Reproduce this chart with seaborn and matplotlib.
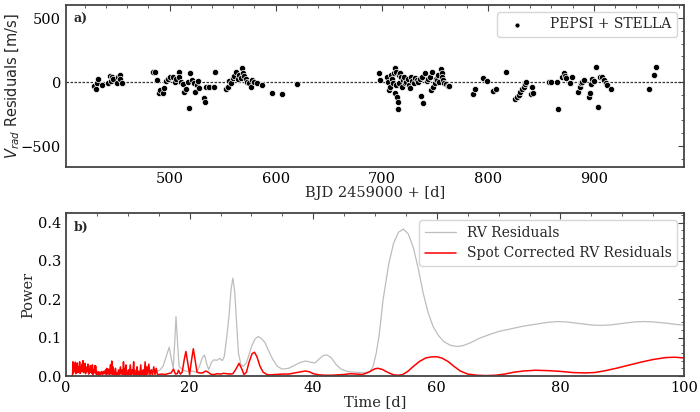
import matplotlib
matplotlib.use("Agg")
import matplotlib.pyplot as plt
import seaborn as sns
import numpy as np
import pandas as pd

# ---------------- data: panel a) RV residuals ----------------
bjd = [428.9, 430.5, 432.0, 432.7, 436.8, 442.1, 443.7, 444.6, 446.2, 446.8, 450.5, 451.5, 453.1, 453.7, 455.6,
       484.3, 486.6, 487.8, 489.7, 491.5, 493.7, 494.6, 496.9, 498.8, 500.9, 503.1, 504.7, 506.3, 508.8, 509.4,
       511.0, 512.5, 514.1, 515.7, 517.2, 518.2, 519.4, 521.3, 523.5, 524.4, 525.7, 526.6, 528.2, 532.3, 533.6,
       534.5, 537.0, 542.3, 543.2,
       553.3, 554.8, 556.3, 557.9, 559.5, 561.0, 562.6, 564.1, 565.7, 567.3, 568.2, 569.5, 570.4, 572.0, 573.5,
       575.1, 576.7, 578.2, 579.8, 582.9, 587.6, 597.0, 605.8, 619.9,
       697.2, 698.1, 705.0, 705.9, 706.6, 707.5, 708.8, 709.7, 710.6, 711.3, 712.2, 712.9, 713.5, 713.8, 714.4,
       715.0, 715.3, 716.0, 716.6, 717.6, 718.1, 719.1, 720.0, 721.3, 722.3, 723.2, 724.4, 725.4, 726.3, 727.5,
       728.5, 730.0, 731.6, 733.2, 734.7, 735.7, 736.9, 737.8, 739.4, 741.0, 742.5, 744.1, 745.7, 746.7, 747.9,
       748.8, 749.8, 751.0, 752.6, 753.5, 754.5, 755.7, 756.6, 757.3, 758.2, 759.2, 760.4, 762.3, 763.6,
       786.4, 788.0, 795.8, 799.5, 805.2, 807.3, 817.1, 826.1, 827.7, 829.3, 830.8, 832.4, 834.0, 835.5, 836.4,
       840.6, 841.5, 842.7, 857.5, 859.9, 865.5, 866.2, 870.0, 871.5, 872.5, 874.0, 877.8, 879.6, 885.0, 886.6,
       887.5, 889.0, 890.6, 895.0, 896.0, 896.9, 898.4, 899.7, 901.6, 903.8, 905.9, 907.8, 910.0, 911.0, 912.2,
       916.3, 952.3, 956.3, 958.5]
resid = [-31, -55, -5, 21, -23, -10, 47, 10, 36, 21, -10, 36, 55, 21, -5,
         75, 75, 13, -83, -62, -83, -49, 10, 21, 36, 42, -3, 23, 75, 42,
         3, -16, -75, -57, 3, -200, 68, 16, -5, -75, -23, 10, -49, -122, -153,
         -36, -42, -36, 75,
         -55, -36, 10, -10, 29, 47, 75, 21, 55, 29, 107, 68, 47, 21, 3,
         -10, -42, 16, 3, -10, -23, -83, -94, -16,
         73, 16, 42, -3, -62, -36, 55, 21, -10, 68, -88, 107, 81, -23, -114,
         -213, -153, 55, -10, 73, 36, -36, 16, 42, -10, 3, 21, -23, -49, 36,
         10, -10, 29, 16, 3, 21, -109, 36, -161, 68, 10, 21, 42, -62, 81,
         -36, -10, 21, 16, 55, 3, 99, 73, 36, 16, -5, -16, -31, -31,
         -94, -55, 29, 10, -70, -57, 81, -133, -114, -101, -78, -57, -36, -18, 3,
         -94, -42, -88, 0, 3, -3, -213, 36, 68, 47, 29, -10, 42, -75, -42,
         -10, 3, 16, -120, -83, -16, 21, 5, 120, -192, 42, 36, 16, -10, -23,
         -57, -55, 55, 120]

# ---------------- data: panel b) periodograms ----------------
gray_P = [13.5, 14.2, 14.8, 15.2, 15.7, 16.2, 16.7, 17.1, 17.35, 17.6, 17.8, 18.0, 18.3, 18.9, 19.5, 20.1,
          20.6, 21.1, 21.6, 22.0, 22.4, 22.8, 23.1, 23.5, 23.9, 24.4, 24.9, 25.3, 25.6, 26.0, 26.4, 26.7,
          27.0, 27.3, 27.6, 27.9, 28.3, 28.7, 29.2, 29.6, 30.1, 30.6, 31.1, 31.6, 32.2, 32.8, 33.5, 34.2,
          35.0, 36.0, 37.0, 38.0, 38.8, 39.6, 40.3, 41.0, 41.6, 42.2, 42.9, 43.7, 44.5, 45.5, 46.5, 47.5,
          48.5, 49.2, 49.7, 50.2, 50.7, 51.3, 52.2, 53.0, 53.8, 54.6, 55.4, 56.2, 57.0, 57.8, 58.6, 59.4,
          60.2, 61.1, 62.2, 63.2, 64.2, 65.5, 67.0, 68.5, 70.0, 72.0, 74.0, 76.0, 78.0, 79.5, 81.0, 83.0,
          85.0, 86.5, 88.0, 90.0, 92.0, 93.5, 95.0, 97.0, 99.0, 100.0]
gray_pow = [0.012, 0.018, 0.012, 0.016, 0.025, 0.050, 0.075, 0.040, 0.020, 0.090, 0.155, 0.100, 0.025, 0.016,
            0.012, 0.013, 0.012, 0.010, 0.025, 0.045, 0.055, 0.030, 0.016, 0.035, 0.042, 0.041, 0.046, 0.040,
            0.050, 0.100, 0.160, 0.225, 0.255, 0.220, 0.140, 0.060, 0.030, 0.025, 0.035, 0.055, 0.080, 0.097,
            0.103, 0.098, 0.087, 0.065, 0.042, 0.025, 0.018, 0.020, 0.028, 0.036, 0.039, 0.036, 0.034, 0.045,
            0.053, 0.055, 0.048, 0.030, 0.018, 0.012, 0.010, 0.009, 0.009, 0.012, 0.025, 0.060, 0.110, 0.198,
            0.290, 0.346, 0.375, 0.383, 0.370, 0.335, 0.280, 0.216, 0.165, 0.129, 0.107, 0.090, 0.080, 0.077,
            0.079, 0.087, 0.099, 0.108, 0.116, 0.123, 0.130, 0.135, 0.140, 0.142, 0.141, 0.137, 0.133, 0.132,
            0.133, 0.137, 0.141, 0.142, 0.141, 0.138, 0.134, 0.133]

# short-period noise of the spot-corrected residuals: peaks and the dips after them
noise_P = [1.13, 1.29, 1.51, 1.67, 1.83, 2.05, 2.21, 2.37, 2.59, 2.75, 2.91, 3.07, 3.24, 3.40, 3.56, 3.78,
           3.94, 4.10, 4.26, 4.48, 4.64, 4.80, 4.96, 5.10, 5.30, 5.55, 5.80, 6.10, 6.40, 6.60, 6.90, 7.20,
           7.40, 7.60, 7.80, 8.00, 8.25, 8.50, 8.80, 9.10, 9.30, 9.50, 9.70, 9.90, 10.10, 10.40, 10.70, 10.95,
           11.10, 11.30, 11.50, 11.75, 12.10, 12.30, 12.50, 12.80, 13.10, 13.40, 13.80, 14.20, 14.60]
noise_peak = [0.037, 0.024, 0.036, 0.024, 0.034, 0.024, 0.037, 0.024, 0.031, 0.040, 0.027, 0.033, 0.020, 0.024,
              0.031, 0.018, 0.027, 0.024, 0.029, 0.016, 0.027, 0.026, 0.012, 0.009, 0.011, 0.010, 0.012, 0.012,
              0.016, 0.020, 0.018, 0.029, 0.039, 0.024, 0.012, 0.020, 0.009, 0.016, 0.024, 0.016, 0.037, 0.020,
              0.029, 0.009, 0.016, 0.029, 0.016, 0.037, 0.016, 0.009, 0.024, 0.012, 0.029, 0.009, 0.016, 0.037,
              0.024, 0.031, 0.016, 0.024, 0.020]
noise_dip = [0.008, 0.012, 0.006, 0.010, 0.009, 0.014, 0.007, 0.011, 0.012, 0.009, 0.013, 0.006, 0.010, 0.012,
             0.005, 0.009, 0.011, 0.007, 0.004, 0.008, 0.010, 0.005, 0.003, 0.004, 0.003, 0.005, 0.004, 0.006,
             0.004, 0.005, 0.003, 0.006, 0.004, 0.003, 0.005, 0.002, 0.004, 0.003, 0.005, 0.003, 0.004, 0.002,
             0.005, 0.003, 0.004, 0.003, 0.005, 0.002, 0.004, 0.003, 0.004, 0.002, 0.003, 0.004, 0.002, 0.003,
             0.004, 0.002, 0.003, 0.004, 0.003]

red_P = [15.0, 15.5, 16.0, 16.5, 17.0, 17.4, 17.7, 18.0, 18.2, 18.5, 18.8, 19.1, 19.4, 19.7, 20.0, 20.3, 20.6,
         20.9, 21.2, 21.6, 22.1, 22.6, 23.0, 23.5, 24.0, 24.5, 25.0, 25.5, 26.0, 26.5, 27.0, 27.5, 28.0, 28.4,
         28.8, 29.2, 29.6, 30.1, 30.5, 30.9, 31.4, 31.9, 32.5, 33.0, 34.0, 35.0, 36.0, 37.0, 38.0, 38.7, 39.4,
         40.0, 41.0, 42.0, 43.0, 44.0, 45.0, 46.0, 47.0, 48.0, 49.0, 50.0, 50.5, 51.2, 52.0, 53.0, 53.8, 54.5,
         55.3, 56.2, 57.2, 58.2, 59.2, 60.0, 60.8, 61.8, 62.8, 63.8, 65.0, 66.5, 68.0, 69.5, 71.0, 72.5, 74.0,
         76.0, 78.0, 80.0, 82.0, 84.0, 85.5, 87.0, 89.0, 91.0, 93.0, 95.0, 97.0, 98.5, 100.0]
red_pow = [0.004, 0.005, 0.004, 0.006, 0.008, 0.018, 0.005, 0.006, 0.015, 0.005, 0.010, 0.040, 0.064, 0.035,
           0.004, 0.040, 0.071, 0.040, 0.010, 0.008, 0.008, 0.013, 0.010, 0.004, 0.004, 0.006, 0.005, 0.007,
           0.006, 0.005, 0.006, 0.018, 0.033, 0.020, 0.004, 0.010, 0.035, 0.058, 0.062, 0.050, 0.025, 0.010,
           0.004, 0.003, 0.004, 0.005, 0.005, 0.008, 0.011, 0.013, 0.011, 0.006, 0.003, 0.002, 0.002, 0.003,
           0.004, 0.006, 0.005, 0.004, 0.010, 0.019, 0.020, 0.017, 0.010, 0.003, 0.002, 0.004, 0.012, 0.025,
           0.038, 0.047, 0.050, 0.050, 0.047, 0.038, 0.025, 0.013, 0.005, 0.002, 0.001, 0.002, 0.005, 0.010,
           0.013, 0.015, 0.014, 0.012, 0.009, 0.008, 0.009, 0.013, 0.020, 0.028, 0.036, 0.043, 0.048, 0.049,
           0.047]

# ---------------- build frames ----------------
df_rv = pd.DataFrame({"bjd": bjd, "resid": resid})
df_gray = pd.DataFrame({"P": gray_P, "pow": gray_pow})

nP, nV = [1.05], [0.0]
for i in range(len(noise_P)):
    nP.append(noise_P[i])
    nV.append(noise_peak[i])
    nxt = noise_P[i + 1] if i + 1 < len(noise_P) else red_P[0]
    nP.append(0.5 * (noise_P[i] + nxt))
    nV.append(noise_dip[i])
df_red = pd.DataFrame({"P": nP + red_P, "pow": nV + red_pow})

# ---------------- style ----------------
sns.set_theme(style="white")
plt.rcParams["font.family"] = ["DejaVu Serif"]
plt.rcParams["mathtext.fontset"] = "dejavusans"
plt.rcParams["axes.unicode_minus"] = True

fig = plt.figure(figsize=(7.0, 4.12), dpi=100)
ax1 = fig.add_axes([66 / 700, 1 - 167 / 412, 618 / 700, 162 / 412])
ax2 = fig.add_axes([66 / 700, 1 - 376 / 412, 618 / 700, 163 / 412])

spine_c = "#444444"
for ax in (ax1, ax2):
    for s in ax.spines.values():
        s.set_color(spine_c)
        s.set_linewidth(1.3)
    ax.minorticks_on()
    ax.tick_params(which="both", direction="in", top=True, right=True, colors=spine_c,
                   labelcolor="black", labelsize=10.5)
    ax.tick_params(which="major", length=4, width=0.8)
    ax.tick_params(which="minor", length=2, width=0.6)

# ---- panel a ----
ax1.axhline(0, color="#333333", ls=(0, (2, 1.2)), lw=0.9, zorder=1)
sns.scatterplot(data=df_rv, x="bjd", y="resid", ax=ax1, color="black", s=20,
                edgecolor="white", linewidth=0.5, label="PEPSI + STELLA", zorder=3)
ax1.set_ylim(-664, 602)
ax1.set_yticks([-500, 0, 500])
ax1.set_xticks([500, 600, 700, 800, 900])
ax1.set_xlabel("BJD 2459000 + [d]", fontsize=10.5, labelpad=0)
ax1.set_ylabel("$V_{rad}$ Residuals [m/s]", fontsize=10.5, family="DejaVu Sans", labelpad=-1)
ax1.text(0.012, 0.95, "a)", transform=ax1.transAxes, fontsize=9, fontweight="bold", va="top")
leg1 = ax1.legend(loc="upper right", fontsize=10, frameon=True, markerscale=0.8,
                  handletextpad=1.4, borderpad=0.4)
leg1.get_frame().set_edgecolor("#cccccc")

# ---- panel b ----
sns.lineplot(data=df_gray, x="P", y="pow", ax=ax2, color="#bdbdbd", lw=0.9,
             estimator=None, sort=False, label="RV Residuals")
sns.lineplot(data=df_red, x="P", y="pow", ax=ax2, color="red", lw=1.1,
             estimator=None, sort=False, label="Spot Corrected RV Residuals")
ax2.set_xlim(0, 100)
ax2.set_ylim(0, 0.425)
ax2.set_xticks([0, 20, 40, 60, 80, 100])
ax2.set_yticks([0.0, 0.1, 0.2, 0.3, 0.4])
ax2.set_xlabel("Time [d]", fontsize=10.5, labelpad=0)
ax2.set_ylabel("Power", fontsize=10.5, labelpad=2)
ax2.text(0.012, 0.95, "b)", transform=ax2.transAxes, fontsize=9, fontweight="bold", va="top")
leg2 = ax2.legend(loc="upper right", fontsize=10, frameon=True, handlelength=2.2,
                  borderpad=0.4)
leg2.get_frame().set_edgecolor("#cccccc")

fig.savefig("out.png", dpi=100)
